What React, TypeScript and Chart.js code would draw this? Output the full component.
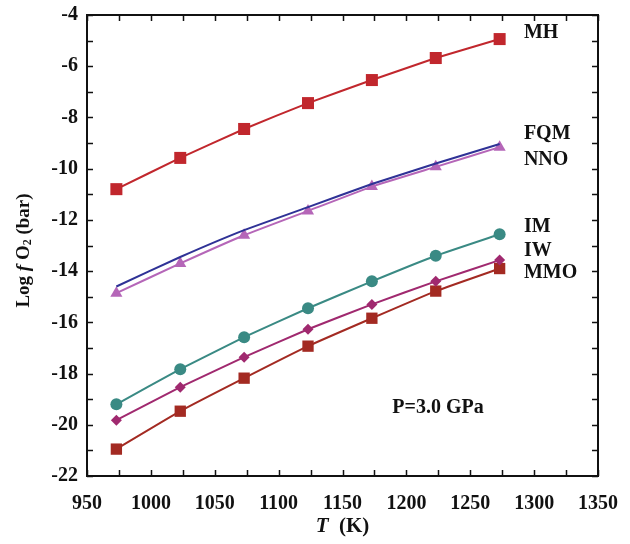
import React, { useEffect, useRef } from "react";
import { Chart, registerables } from "chart.js";

Chart.register(...registerables);

const temperatures = [973, 1023, 1073, 1123, 1173, 1223, 1273];
const mhValues = [-10.8, -9.58, -8.45, -7.44, -6.54, -5.68, -4.94];
const fqmValues = [-14.6, -13.45, -12.4, -11.5, -10.6, -9.8, -9.04];
const nnoValues = [-14.86, -13.7, -12.6, -11.65, -10.7, -9.93, -9.16];
const imValues = [-19.2, -17.83, -16.58, -15.45, -14.4, -13.4, -12.56];
const iwValues = [-19.82, -18.53, -17.36, -16.27, -15.3, -14.4, -13.57];
const mmoValues = [-20.95, -19.47, -18.18, -16.93, -15.84, -14.78, -13.9];

const seriesLabels = ["MH", "FQM", "NNO", "IM", "IW", "MMO"];
const labelYValues = [-4.7, -8.65, -9.66, -12.28, -13.2, -14.08];
const labelXValue = 1292;

const FONT = "'Liberation Serif', 'Times New Roman', serif";

function toXY(vals: number[]) {
  return vals.map((v, i) => ({ x: temperatures[i], y: v }));
}

const decorPlugin = {
  id: "decor",
  afterDraw(chart: any) {
    const { ctx, chartArea, scales } = chart;
    const xs = scales.x;
    const ys = scales.y;
    const { left, right, top, bottom } = chartArea;
    ctx.save();
    ctx.strokeStyle = "#111";
    ctx.lineWidth = 1.5;
    ctx.beginPath();
    for (let t = 950; t <= 1350; t += 25) {
      const px = Math.round(xs.getPixelForValue(t)) + 0.5;
      ctx.moveTo(px, bottom);
      ctx.lineTo(px, bottom - 6);
      ctx.moveTo(px, top);
      ctx.lineTo(px, top + 6);
    }
    for (let v = -22; v <= -4; v += 1) {
      const py = Math.round(ys.getPixelForValue(v)) + 0.5;
      ctx.moveTo(left, py);
      ctx.lineTo(left + 6, py);
      ctx.moveTo(right, py);
      ctx.lineTo(right - 6, py);
    }
    ctx.stroke();
    ctx.lineWidth = 2;
    ctx.strokeRect(left, top, right - left, bottom - top);

    ctx.fillStyle = "#111";
    ctx.font = `bold 20px ${FONT}`;
    ctx.textAlign = "left";
    ctx.textBaseline = "middle";
    seriesLabels.forEach((lab, i) => {
      ctx.fillText(lab, xs.getPixelForValue(labelXValue), ys.getPixelForValue(labelYValues[i]));
    });
    ctx.fillText("P=3.0 GPa", xs.getPixelForValue(1189), ys.getPixelForValue(-19.35));

    const cx = (left + right) / 2;
    const ty = 527;
    ctx.font = `italic bold 21px ${FONT}`;
    const tW = ctx.measureText("T").width;
    ctx.font = `bold 21px ${FONT}`;
    const restW = ctx.measureText("  (K)").width;
    const sx = cx - (tW + restW) / 2;
    ctx.font = `italic bold 21px ${FONT}`;
    ctx.fillText("T", sx, ty);
    ctx.font = `bold 21px ${FONT}`;
    ctx.fillText("  (K)", sx + tW, ty);

    ctx.translate(24, (top + bottom) / 2 + 5);
    ctx.rotate(-Math.PI / 2);
    const parts: { t: string; f: string; dy: number }[] = [
      { t: "Log ", f: `bold 19px ${FONT}`, dy: 0 },
      { t: "f ", f: `italic bold 19px ${FONT}`, dy: 0 },
      { t: "O", f: `bold 19px ${FONT}`, dy: 0 },
      { t: "2", f: `bold 12px ${FONT}`, dy: 4 },
      { t: " (bar)", f: `bold 19px ${FONT}`, dy: 0 },
    ];
    let total = 0;
    parts.forEach((p) => {
      ctx.font = p.f;
      total += ctx.measureText(p.t).width;
    });
    let px = -total / 2;
    parts.forEach((p) => {
      ctx.font = p.f;
      ctx.fillText(p.t, px, p.dy);
      px += ctx.measureText(p.t).width;
    });
    ctx.restore();
  },
};

export default function App() {
  const ref = useRef<HTMLCanvasElement | null>(null);
  useEffect(() => {
    if (!ref.current) return;
    const mk = (
      label: string,
      vals: number[],
      color: string,
      style: any,
      radius: number
    ) => ({
      label,
      data: toXY(vals),
      borderColor: color,
      backgroundColor: color,
      borderWidth: 2,
      pointStyle: style,
      pointRadius: radius,
      pointBorderWidth: 0,
      tension: 0.12,
    });
    const chart = new Chart(ref.current, {
      type: "line",
      data: {
        datasets: [
          mk("MH", mhValues, "#c1272d", "rect", 8.5),
          mk("FQM", fqmValues, "#2f3296", "circle", 0),
          mk("NNO", nnoValues, "#b566b8", "triangle", 7),
          mk("IM", imValues, "#3a8a84", "circle", 6),
          mk("IW", iwValues, "#a0296f", "rectRot", 5.5),
          mk("MMO", mmoValues, "#a32a22", "rect", 8),
        ],
      },
      options: {
        responsive: false,
        animation: false,
        layout: { padding: { left: 0, right: 32, top: 15, bottom: 0 } },
        plugins: { legend: { display: false }, tooltip: { enabled: false } },
        scales: {
          x: {
            type: "linear",
            min: 950,
            max: 1350,
            grid: { display: false, drawTicks: false },
            border: { display: false },
            ticks: {
              stepSize: 50,
              padding: 16,
              color: "#111",
              font: { family: FONT, size: 20, weight: "bold" },
              maxRotation: 0,
              callback: (v: any) => String(v),
            },
            afterFit: (s: any) => {
              s.height = 68;
              s.paddingLeft = 0;
              s.paddingRight = 0;
            },
          },
          y: {
            type: "linear",
            min: -22,
            max: -4,
            grid: { display: false, drawTicks: false },
            border: { display: false },
            ticks: {
              stepSize: 1,
              padding: 9,
              color: "#111",
              font: { family: FONT, size: 20, weight: "bold" },
              callback: (v: any) => (Math.round(v) % 2 === 0 ? String(v) : ""),
            },
            afterFit: (s: any) => {
              s.width = 87;
              s.paddingTop = 0;
              s.paddingBottom = 0;
            },
          },
        },
      },
      plugins: [decorPlugin],
    } as any);
    return () => chart.destroy();
  }, []);
  return (
    <div style={{ position: "fixed", left: 0, top: 0, width: 630, height: 544, background: "#fff" }}>
      <canvas ref={ref} width={630} height={544} />
    </div>
  );
}
